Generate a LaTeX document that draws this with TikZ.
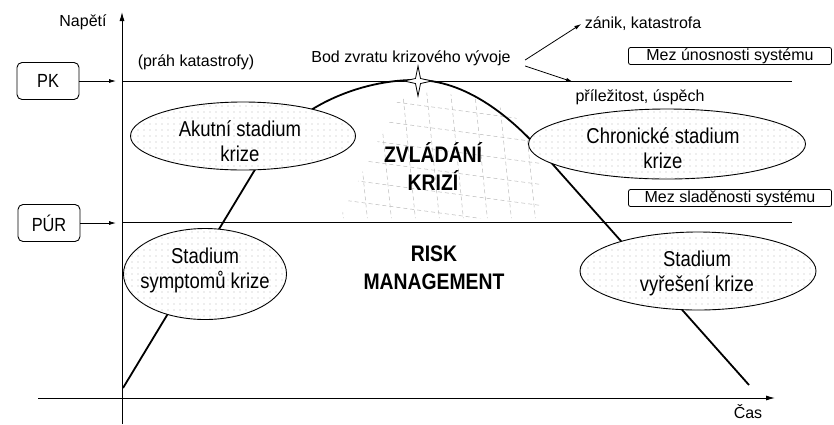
\documentclass[tikz,border=0pt]{standalone}
\usepackage{fontspec}
\setmainfont{Liberation Sans}
\newfontfamily\condfont{Liberation Sans}[FakeStretch=0.86]
\usetikzlibrary{arrows.meta,patterns.meta,shapes.geometric}
\begin{document}
\begin{tikzpicture}[x=1pt,y=-1pt,
  txt/.style={font=\fontsize{16}{19}\selectfont},
  levelbox/.style={draw,rounded corners=5pt,line width=0.9pt,minimum width=62pt,minimum height=37pt,font=\condfont\fontsize{19}{22}\selectfont},
  limitbox/.style={draw,rounded corners=2pt,line width=0.8pt,minimum width=203pt,minimum height=17pt,inner ysep=0pt,text height=11.5pt,text depth=3pt,font=\fontsize{16}{19}\selectfont},
  stage/.style={draw,ellipse,line width=0.9pt,fill=white,postaction={pattern={Dots[distance=6pt,radius=0.7pt]},pattern color=gray!55}},
  stagetxt/.style={align=center,font=\condfont\fontsize{21.5}{25}\selectfont},
  zone/.style={align=center,font=\condfont\bfseries\fontsize{22.5}{28}\selectfont},
  hatch/.style={gray!55,line width=0.5pt,dash pattern=on 4pt off 3pt},
  arr/.style={-{Latex[length=7pt,width=4pt]},line width=0.8pt},
  axis/.style={-{Latex[length=9pt,width=5pt]},line width=0.9pt}]
\useasboundingbox (0,0) rectangle (834,424);
\begin{scope}
\clip (420,92) -- (470,96) -- (512,112) -- (540,150) -- (540,218) -- (340,218) -- (398,100) -- cycle;
\foreach \y in {92,113,...,252} \draw[hatch] (320,\y) -- (560,\y+32);
\foreach \x in {330,354,...,560} \draw[hatch] (\x,85) -- (\x+14,225);
\end{scope}
\coordinate (ybot) at (122,424);
\coordinate (ytop) at (122,12);
\coordinate (xleft) at (38,398);
\coordinate (xright) at (775,398);
\draw[axis] (ybot) -- (ytop);
\draw[axis] (xleft) -- (xright);
\draw[line width=0.9pt] (122,81) -- (792,81);
\draw[line width=0.9pt] (122,222) -- (792,222);
\node (napeti) at (83,22) [txt] {Napětí};
\node (cas) at (748,412) [txt] {Čas};
\node (pk) at (48,81) [levelbox] {PK};
\node (pur) at (49,223) [levelbox] {PÚR};
\coordinate (pkin) at (116,81);
\coordinate (purin) at (116,223);
\draw[arr] (pk.east) -- (pkin);
\draw[arr] (pur.east) -- (purin);
\node (prah) at (196,62) [txt] {(práh katastrofy)};
\node (bod) at (411,58) [txt] {Bod zvratu krizového vývoje};
\node (zanik) at (643,24) [txt] {zánik, katastrofa};
\node (prilez) at (640,97) [txt] {příležitost, úspěch};
\node (unosnost) at (730,56) [limitbox] {Mez únosnosti systému};
\node (sladenost) at (730,198) [limitbox] {Mez sladěnosti systému};
\coordinate (chance) at (573,82);
\draw[arr] ([xshift=11pt,yshift=-2pt]bod.east) -- (zanik.west);
\draw[arr] ([xshift=11pt,yshift=-8pt]bod.east) -- (chance);
\draw[line width=1.8pt] (123,388) -- (262,158) .. controls (292,108) and (360,79) .. (418,80) .. controls (470,81) and (515,122) .. (540,150) -- (749,385);
\draw[fill=white,line width=0.8pt] (418,66) -- (420.5,78.5) -- (432,81) -- (420.5,83.5) -- (418,96) -- (415.5,83.5) -- (404,81) -- (415.5,78.5) -- cycle;
\node (akut) at (243,136) [stage,minimum width=225pt,minimum height=68pt] {};
\node (akuttxt) at (240,141) [stagetxt] {Akutní stadium\\krize};
\node (sympt) at (205,274) [stage,minimum width=163pt,minimum height=91pt] {};
\node (sympttxt) at (205,270) [stagetxt] {Stadium\\symptomů krize};
\node (chron) at (667,144) [stage,minimum width=277pt,minimum height=70pt] {};
\node (chrontxt) at (663,148) [stagetxt] {Chronické stadium\\krize};
\node (vyres) at (698,271) [stage,minimum width=236pt,minimum height=78pt] {};
\node (vyrestxt) at (697,273) [stagetxt] {Stadium\\vyřešení krize};
\node (zvladani) at (433,167) [zone] {ZVLÁDÁNÍ\\KRIZÍ};
\node (risk) at (434,268) [zone] {RISK\\MANAGEMENT};
\end{tikzpicture}
\end{document}
